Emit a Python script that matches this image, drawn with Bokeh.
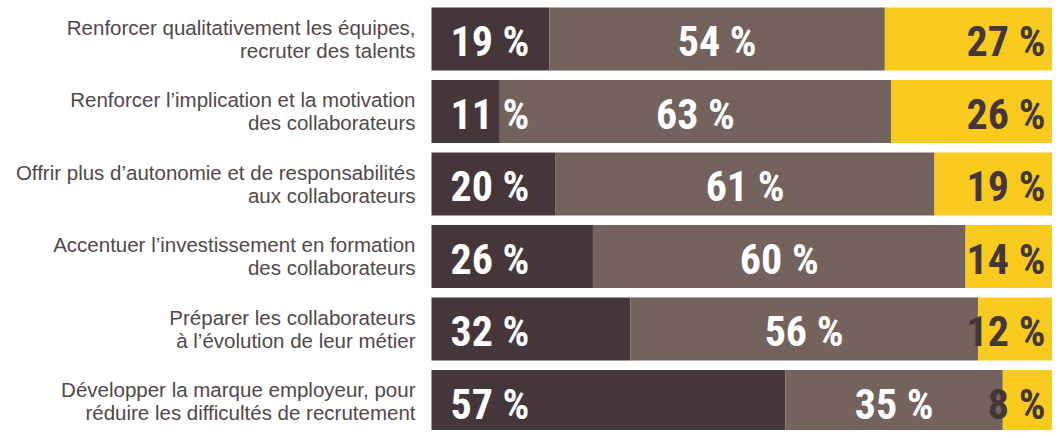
from bokeh.plotting import figure
from bokeh.models import ColumnDataSource, Range1d
from bokeh.core.properties import value
from bokeh.embed import file_html
from bokeh.resources import INLINE

categories = [
    "Renforcer qualitativement les équipes,\nrecruter des talents",
    "Renforcer l’implication et la motivation\ndes collaborateurs",
    "Offrir plus d’autonomie et de responsabilités\naux collaborateurs",
    "Accentuer l’investissement en formation\ndes collaborateurs",
    "Préparer les collaborateurs\nà l’évolution de leur métier",
    "Développer la marque employeur, pour\nréduire les difficultés de recrutement",
]
serie_1 = [19, 11, 20, 26, 32, 57]
serie_2 = [54, 63, 61, 60, 56, 35]
serie_3 = [27, 26, 19, 14, 12, 8]

DARK = "#45363a"
MID = "#74625c"
YEL = "#f9cb1f"
TXT = "#524849"
NUMFONT = value("Roboto Condensed, Noto Sans Condensed, Liberation Sans Narrow, DejaVu Sans Condensed, sans-serif")

n = len(categories)
ys = list(range(n))
e1 = serie_1
e2 = [a + b for a, b in zip(serie_1, serie_2)]
e3 = [a + b + c for a, b, c in zip(serie_1, serie_2, serie_3)]
mid2 = [(a + b) / 2 for a, b in zip(e1, e2)]

src = ColumnDataSource(dict(
    y=ys, e1=e1, e2=e2, e3=e3, zero=[0] * n, m2=mid2,
    t1=[f"{v} %" for v in serie_1],
    t2=[f"{v} %" for v in serie_2],
    t3=[f"{v} %" for v in serie_3],
    l1=[c.split("\n")[0] for c in categories],
    l2=[c.split("\n")[1] for c in categories],
))

p = figure(width=1052, height=430, output_backend="svg", toolbar_location=None,
           x_range=Range1d(-69.4, 100), y_range=Range1d(5.400, -0.531),
           min_border=0, outline_line_color=None)
p.axis.visible = False
p.grid.visible = False
p.background_fill_color = "white"

h = 0.869
p.hbar(y="y", left="zero", right="e1", height=h, source=src, fill_color=DARK, line_color=None)
p.hbar(y="y", left="e1", right="e2", height=h, source=src, fill_color=MID, line_color=None)
p.hbar(y="y", left="e2", right="e3", height=h, source=src, fill_color=YEL, line_color=None)

common = dict(text_font=NUMFONT, text_font_style="bold", text_font_size="42px",
              text_baseline="alphabetic", y_offset=3)
p.text(x="zero", y="y", text="t1", source=src, text_color="white", text_align="left",
       x_offset=19, **common)
p.text(x="m2", y="y", text="t2", source=src, text_color="white", text_align="center",
       **common)
p.text(x="e3", y="y", text="t3", source=src, text_color=DARK, text_align="right",
       x_offset=-7, **common)

lab = dict(text_font=value("Liberation Sans"), text_font_size="20.5px",
           text_color=TXT, text_align="right", text_baseline="middle", x_offset=-16)
p.text(x="zero", y="y", text="l1", source=src, y_offset=-11.5, **lab)
p.text(x="zero", y="y", text="l2", source=src, y_offset=11.5, **lab)

open("out.html", "w").write(file_html(p, INLINE))
